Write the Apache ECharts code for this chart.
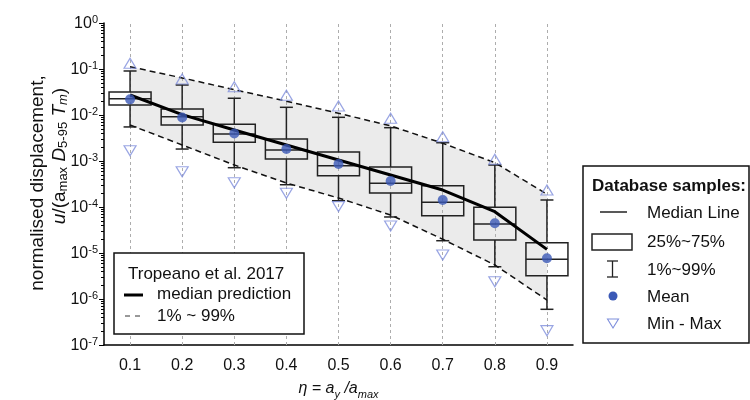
<!DOCTYPE html>
<html><head><meta charset="utf-8">
<script src="https://cdn.jsdelivr.net/npm/echarts@6/dist/echarts.min.js"></script>
<style>html,body{margin:0;padding:0;background:#fff}#c{width:750px;height:400px}</style>
</head><body><div id="c"></div>
<script>
const categories = ['0.1','0.2','0.3','0.4','0.5','0.6','0.7','0.8','0.9'];
// Database samples (box plot statistics)
const p99  = [0.0905, 0.0449, 0.0231, 0.0147, 0.00891, 0.0053, 0.0025, 0.000818, 0.000142];
const q3   = [0.0316, 0.0135, 0.00628, 0.00301, 0.00157, 0.000741, 0.00029, 9.84e-5, 1.67e-5];
const med  = [0.0226, 0.00918, 0.00386, 0.00173, 0.000791, 0.000328, 0.000127, 4.27e-5, 7.3e-6];
const q1   = [0.0165, 0.00607, 0.00255, 0.0011, 0.000479, 0.000201, 6.47e-5, 1.92e-5, 3.21e-6];
const p1   = [0.0055, 0.00182, 0.000715, 0.000305, 0.000137, 6.07e-5, 1.85e-5, 5.03e-6, 5.97e-7];
const meanV = [0.0219, 0.00883, 0.00396, 0.00182, 0.000861, 0.000368, 0.000142, 4.42e-5, 7.67e-6];
const maxV = [0.133, 0.0607, 0.0412, 0.0268, 0.0157, 0.00848, 0.00337, 0.00109, 0.000234];
const minV = [0.00167, 0.000585, 0.000337, 0.000199, 0.000102, 3.86e-5, 9.05e-6, 2.38e-6, 2.05e-7];
// Tropeano et al. 2017 prediction
const predMedian = [0.0272, 0.0102, 0.00472, 0.00223, 0.00105, 0.000496, 0.000234, 7.9e-5, 1.2e-5];
const predUpper  = [0.112, 0.064, 0.0355, 0.020, 0.0109, 0.0058, 0.00243, 0.00092, 0.00019];
const predLower  = [0.00606, 0.00223, 0.00082, 0.000332, 0.000157, 6.7e-5, 1.99e-5, 5.5e-6, 9.5e-7];

const FF = '"Liberation Sans", Arial, Helvetica, sans-serif';
const chart = echarts.init(document.getElementById('c'), null, {renderer: 'canvas'});

const boxData = categories.map((c, i) => [i, p1[i], q1[i], med[i], q3[i], p99[i]]);

const option = {
  animation: false,
  backgroundColor: '#fff',
  textStyle: {fontFamily: FF},
  grid: {left: 104, right: 177, top: 23, bottom: 55, containLabel: false, outerBoundsMode: 'none'},
  xAxis: {
    type: 'category', data: categories, boundaryGap: true,
    axisLine: {lineStyle: {color: '#000', width: 1.5}},
    axisTick: {alignWithLabel: true, inside: true, length: 4, lineStyle: {color: '#000'}},
    axisLabel: {color: '#111', fontSize: 16, margin: 13, fontFamily: FF},
    splitLine: {show: false},
    name: '{i|η = a}{sub|y}{i| /a}{sub|max}',
    nameLocation: 'middle', nameGap: 38,
    nameTextStyle: {
      rich: {
        i: {fontSize: 16, fontStyle: 'italic', fontFamily: FF, color: '#111', lineHeight: 17, padding: [0,0,3,0], verticalAlign: 'bottom'},
        sub: {fontSize: 11, fontStyle: 'italic', fontFamily: FF, color: '#111', lineHeight: 12, verticalAlign: 'bottom'}
      }
    }
  },
  yAxis: {
    type: 'log', logBase: 10, min: 1e-7, max: 1, splitNumber: 7,
    axisLine: {show: true, lineStyle: {color: '#000', width: 1.5}},
    axisTick: {show: true, length: 5, lineStyle: {color: '#000'}},
    minorTick: {show: true, splitNumber: 9, length: 3, lineStyle: {color: '#000'}},
    splitLine: {show: false},
    axisLabel: {
      margin: 6,
      formatter: v => '{b|10}{s|' + Math.round(Math.log10(v)) + '}',
      rich: {
        b: {fontSize: 16, fontFamily: FF, color: '#111', lineHeight: 17, padding: [3,0,0,0], verticalAlign: 'bottom'},
        s: {fontSize: 11, fontFamily: FF, color: '#111', lineHeight: 12, verticalAlign: 'top'}
      }
    }
  },
  series: [
    {
      type: 'custom', name: 'band', z: 0, silent: true,
      data: [[0, 0.01]],
      renderItem: (params, api) => {
        const pts = [];
        for (let i = 0; i < categories.length; i++) pts.push(api.coord([i, predUpper[i]]));
        for (let i = categories.length - 1; i >= 0; i--) pts.push(api.coord([i, predLower[i]]));
        return {type: 'polygon', shape: {points: pts}, style: {fill: '#ebebeb'}};
      },
      markLine: {
        silent: true, z: 1, symbol: ['none', 'none'], label: {show: false},
        lineStyle: {type: [3, 3], color: '#adadad', width: 1},
        data: categories.map(c => ({xAxis: c}))
      }
    },
    {
      type: 'custom', name: 'boxes', z: 2, silent: true,
      data: boxData,
      encode: {x: 0, y: [1, 2, 3, 4, 5]},
      renderItem: (params, api) => {
        const i = api.value(0);
        const lo = api.coord([i, api.value(1)]);
        const b1 = api.coord([i, api.value(2)]);
        const m = api.coord([i, api.value(3)]);
        const b3 = api.coord([i, api.value(4)]);
        const hi = api.coord([i, api.value(5)]);
        const x = lo[0], hw = 21, cw = 6.5;
        const st = {stroke: '#222', lineWidth: 1.5, fill: null};
        return {type: 'group', children: [
          {type: 'line', shape: {x1: x, y1: hi[1], x2: x, y2: b3[1]}, style: st},
          {type: 'line', shape: {x1: x, y1: b1[1], x2: x, y2: lo[1]}, style: st},
          {type: 'line', shape: {x1: x - cw, y1: hi[1], x2: x + cw, y2: hi[1]}, style: st},
          {type: 'line', shape: {x1: x - cw, y1: lo[1], x2: x + cw, y2: lo[1]}, style: st},
          {type: 'rect', shape: {x: x - hw, y: b3[1], width: 2 * hw, height: b1[1] - b3[1]}, style: {stroke: '#222', lineWidth: 1.5, fill: 'rgba(0,0,0,0)'}},
          {type: 'line', shape: {x1: x - hw, y1: m[1], x2: x + hw, y2: m[1]}, style: st}
        ]};
      }
    },
    {
      type: 'line', name: 'median prediction', z: 3, data: predMedian, symbol: 'none', silent: true,
      lineStyle: {color: '#000', width: 3}
    },
    {
      type: 'line', name: '99%', z: 3, data: predUpper, symbol: 'none', silent: true,
      lineStyle: {color: '#111', width: 1.5, type: [6, 4]}
    },
    {
      type: 'line', name: '1%', z: 3, data: predLower, symbol: 'none', silent: true,
      lineStyle: {color: '#111', width: 1.5, type: [6, 4]}
    },
    {
      type: 'scatter', name: 'Mean', z: 6, data: meanV.map((v, i) => [i, v]),
      symbol: 'circle', symbolSize: 10, itemStyle: {color: '#3b59b6'}
    },
    {
      type: 'scatter', name: 'Max', z: 6, data: maxV.map((v, i) => [i, v]),
      symbol: 'triangle', symbolSize: [12, 10],
      itemStyle: {color: 'rgba(0,0,0,0)', borderColor: '#7f8fdc', borderWidth: 1.2}
    },
    {
      type: 'scatter', name: 'Min', z: 6, data: minV.map((v, i) => [i, v]),
      symbol: 'triangle', symbolSize: [12, 10], symbolRotate: 180,
      itemStyle: {color: 'rgba(0,0,0,0)', borderColor: '#7f8fdc', borderWidth: 1.2}
    }
  ],
  graphic: [
    // y axis title
    {type: 'text', x: 38, y: 183, rotation: Math.PI / 2, z: 100,
      style: {text: 'normalised displacement,', font: '19px ' + FF, fill: '#111', align: 'center', verticalAlign: 'middle'}},
    {type: 'text', x: 60, y: 156, rotation: Math.PI / 2, z: 100,
      style: {
        text: '{i|u}{n|/(a}{s|max}{i| D}{s|5-95}{i| T}{si|m}{n|)}',
        align: 'center', verticalAlign: 'middle',
        rich: {
          i: {font: 'italic 19px ' + FF, fill: '#111', lineHeight: 20, padding: [0,0,4,0], verticalAlign: 'top'},
          n: {font: '19px ' + FF, fill: '#111', lineHeight: 20, padding: [0,0,4,0], verticalAlign: 'top'},
          s: {font: '13px ' + FF, fill: '#111', lineHeight: 14, verticalAlign: 'bottom'},
          si: {font: 'italic 13px ' + FF, fill: '#111', lineHeight: 14, verticalAlign: 'bottom'}
        }
      }},
    // left legend
    {type: 'rect', z: 100, shape: {x: 114, y: 253, width: 190, height: 81}, style: {fill: '#fff', stroke: '#111', lineWidth: 1.5}},
    {type: 'text', z: 101, x: 128, y: 274, style: {text: 'Tropeano et al. 2017', font: '17px ' + FF, fill: '#111', verticalAlign: 'middle'}},
    {type: 'line', z: 101, shape: {x1: 124, y1: 295, x2: 143, y2: 295}, style: {stroke: '#000', lineWidth: 3}},
    {type: 'text', z: 101, x: 157, y: 294, style: {text: 'median prediction', font: '17px ' + FF, fill: '#111', verticalAlign: 'middle'}},
    {type: 'line', z: 101, shape: {x1: 125, y1: 316, x2: 144, y2: 316}, style: {stroke: '#333', lineWidth: 1, lineDash: [5, 5]}},
    {type: 'text', z: 101, x: 157, y: 316, style: {text: '1% ~ 99%', font: '17px ' + FF, fill: '#111', verticalAlign: 'middle'}},
    // right legend
    {type: 'rect', z: 100, shape: {x: 583, y: 166, width: 166, height: 177}, style: {fill: '#fff', stroke: '#111', lineWidth: 1.5}},
    {type: 'text', z: 101, x: 592, y: 186, style: {text: 'Database samples:', font: 'bold 17px ' + FF, fill: '#111', verticalAlign: 'middle'}},
    {type: 'line', z: 101, shape: {x1: 600, y1: 212, x2: 627, y2: 212}, style: {stroke: '#222', lineWidth: 1.5}},
    {type: 'text', z: 101, x: 647, y: 213, style: {text: 'Median Line', font: '17px ' + FF, fill: '#111', verticalAlign: 'middle'}},
    {type: 'rect', z: 101, shape: {x: 592, y: 234, width: 40, height: 16}, style: {fill: '#fff', stroke: '#222', lineWidth: 1.5}},
    {type: 'text', z: 101, x: 647, y: 242, style: {text: '25%~75%', font: '17px ' + FF, fill: '#111', verticalAlign: 'middle'}},
    {type: 'line', z: 101, shape: {x1: 612.5, y1: 261, x2: 612.5, y2: 277}, style: {stroke: '#222', lineWidth: 1.3}},
    {type: 'line', z: 101, shape: {x1: 607, y1: 261, x2: 618, y2: 261}, style: {stroke: '#222', lineWidth: 1.3}},
    {type: 'line', z: 101, shape: {x1: 607, y1: 277, x2: 618, y2: 277}, style: {stroke: '#222', lineWidth: 1.3}},
    {type: 'text', z: 101, x: 647, y: 270, style: {text: '1%~99%', font: '17px ' + FF, fill: '#111', verticalAlign: 'middle'}},
    {type: 'circle', z: 101, shape: {cx: 613, cy: 296, r: 4.5}, style: {fill: '#3b59b6'}},
    {type: 'text', z: 101, x: 647, y: 297, style: {text: 'Mean', font: '17px ' + FF, fill: '#111', verticalAlign: 'middle'}},
    {type: 'polygon', z: 101, shape: {points: [[607.5, 319], [618.5, 319], [613, 328]]}, style: {fill: '#fff', stroke: '#7f8fdc', lineWidth: 1.1}},
    {type: 'text', z: 101, x: 647, y: 324, style: {text: 'Min - Max', font: '17px ' + FF, fill: '#111', verticalAlign: 'middle'}}
  ]
};
chart.setOption(option);
</script></body></html>
